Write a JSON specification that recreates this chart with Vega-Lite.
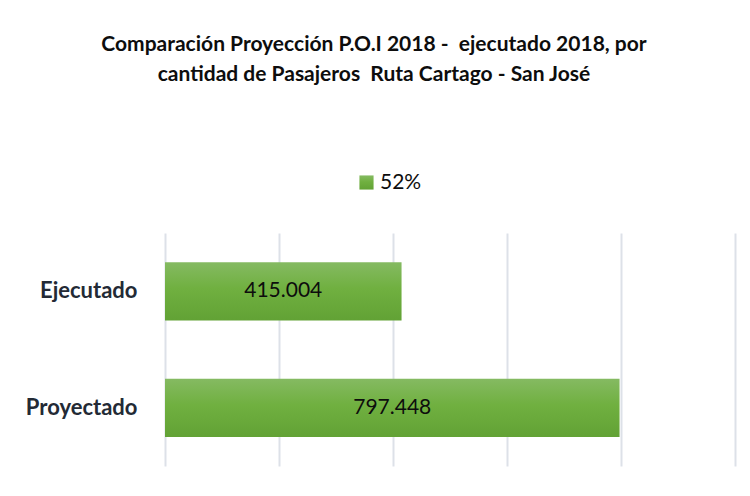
{
  "$schema": "https://vega.github.io/schema/vega-lite/v6.json",
  "autosize": {"type": "none"},
  "width": 570,
  "height": 233,
  "padding": {"left": 165, "top": 233, "right": 15, "bottom": 30},
  "background": "white",
  "config": {
    "font": "Lato",
    "view": {"stroke": null}
  },
  "title": {
    "text": ["Comparación Proyección P.O.I 2018 -\u00a0 ejecutado 2018, por", "cantidad de Pasajeros\u00a0 Ruta Cartago - San José"],
    "fontSize": 21,
    "fontWeight": "bold",
    "font": "Lato",
    "color": "#0d0d0d",
    "anchor": "middle",
    "frame": "group",
    "dx": -76,
    "lineHeight": 30,
    "offset": 87
  },
  "data": {
    "values": [
      {"categoria": "Ejecutado", "valor": 415004, "etiqueta": "415.004", "serie": "52%"},
      {"categoria": "Proyectado", "valor": 797448, "etiqueta": "797.448", "serie": "52%"}
    ]
  },
  "layer": [
    {
      "mark": {
        "type": "bar",
        "color": {
          "gradient": "linear",
          "x1": 0, "y1": 0, "x2": 0, "y2": 1,
          "stops": [
            {"offset": 0, "color": "#85ba62"},
            {"offset": 0.45, "color": "#70b040"},
            {"offset": 1, "color": "#62a235"}
          ]
        }
      },
      "encoding": {
        "y": {
          "field": "categoria",
          "type": "nominal",
          "sort": ["Ejecutado", "Proyectado"],
          "scale": {"paddingInner": 0.5, "paddingOuter": 0.25},
          "axis": {
            "title": null,
            "domain": false,
            "ticks": false,
            "labelFontSize": 22,
            "labelFontWeight": "bold",
            "labelColor": "#232a35",
            "labelPadding": 28,
            "labelFont": "Lato"
          }
        },
        "x": {
          "field": "valor",
          "type": "quantitative",
          "scale": {"domain": [0, 1000000], "nice": false},
          "axis": {
            "title": null,
            "labels": false,
            "ticks": false,
            "domain": false,
            "values": [0, 200000, 400000, 600000, 800000, 1000000],
            "grid": true,
            "gridColor": "#dde1e8",
            "gridWidth": 2
          }
        },
        "opacity": {
          "field": "serie",
          "type": "nominal",
          "scale": {"range": [1]},
          "legend": {
            "title": null,
            "orient": "none",
            "legendX": 191,
            "legendY": -61,
            "symbolType": "square",
            "symbolSize": 200,
            "symbolFillColor": "#70b040",
            "symbolStrokeWidth": 0,
            "labelFontSize": 21,
            "labelFont": "Lato",
            "labelColor": "#0d0d0d",
            "labelOffset": 3
          }
        }
      }
    },
    {
      "mark": {"type": "text", "fontSize": 21, "font": "Lato", "color": "#0d0d0d", "align": "center", "baseline": "middle"},
      "encoding": {
        "y": {"field": "categoria", "type": "nominal", "sort": ["Ejecutado", "Proyectado"]},
        "x": {
          "field": "valor",
          "type": "quantitative",
          "scale": {"domain": [0, 2000000], "nice": false},
          "axis": null
        },
        "text": {"field": "etiqueta"}
      }
    }
  ],
  "resolve": {"scale": {"x": "independent"}}
}
